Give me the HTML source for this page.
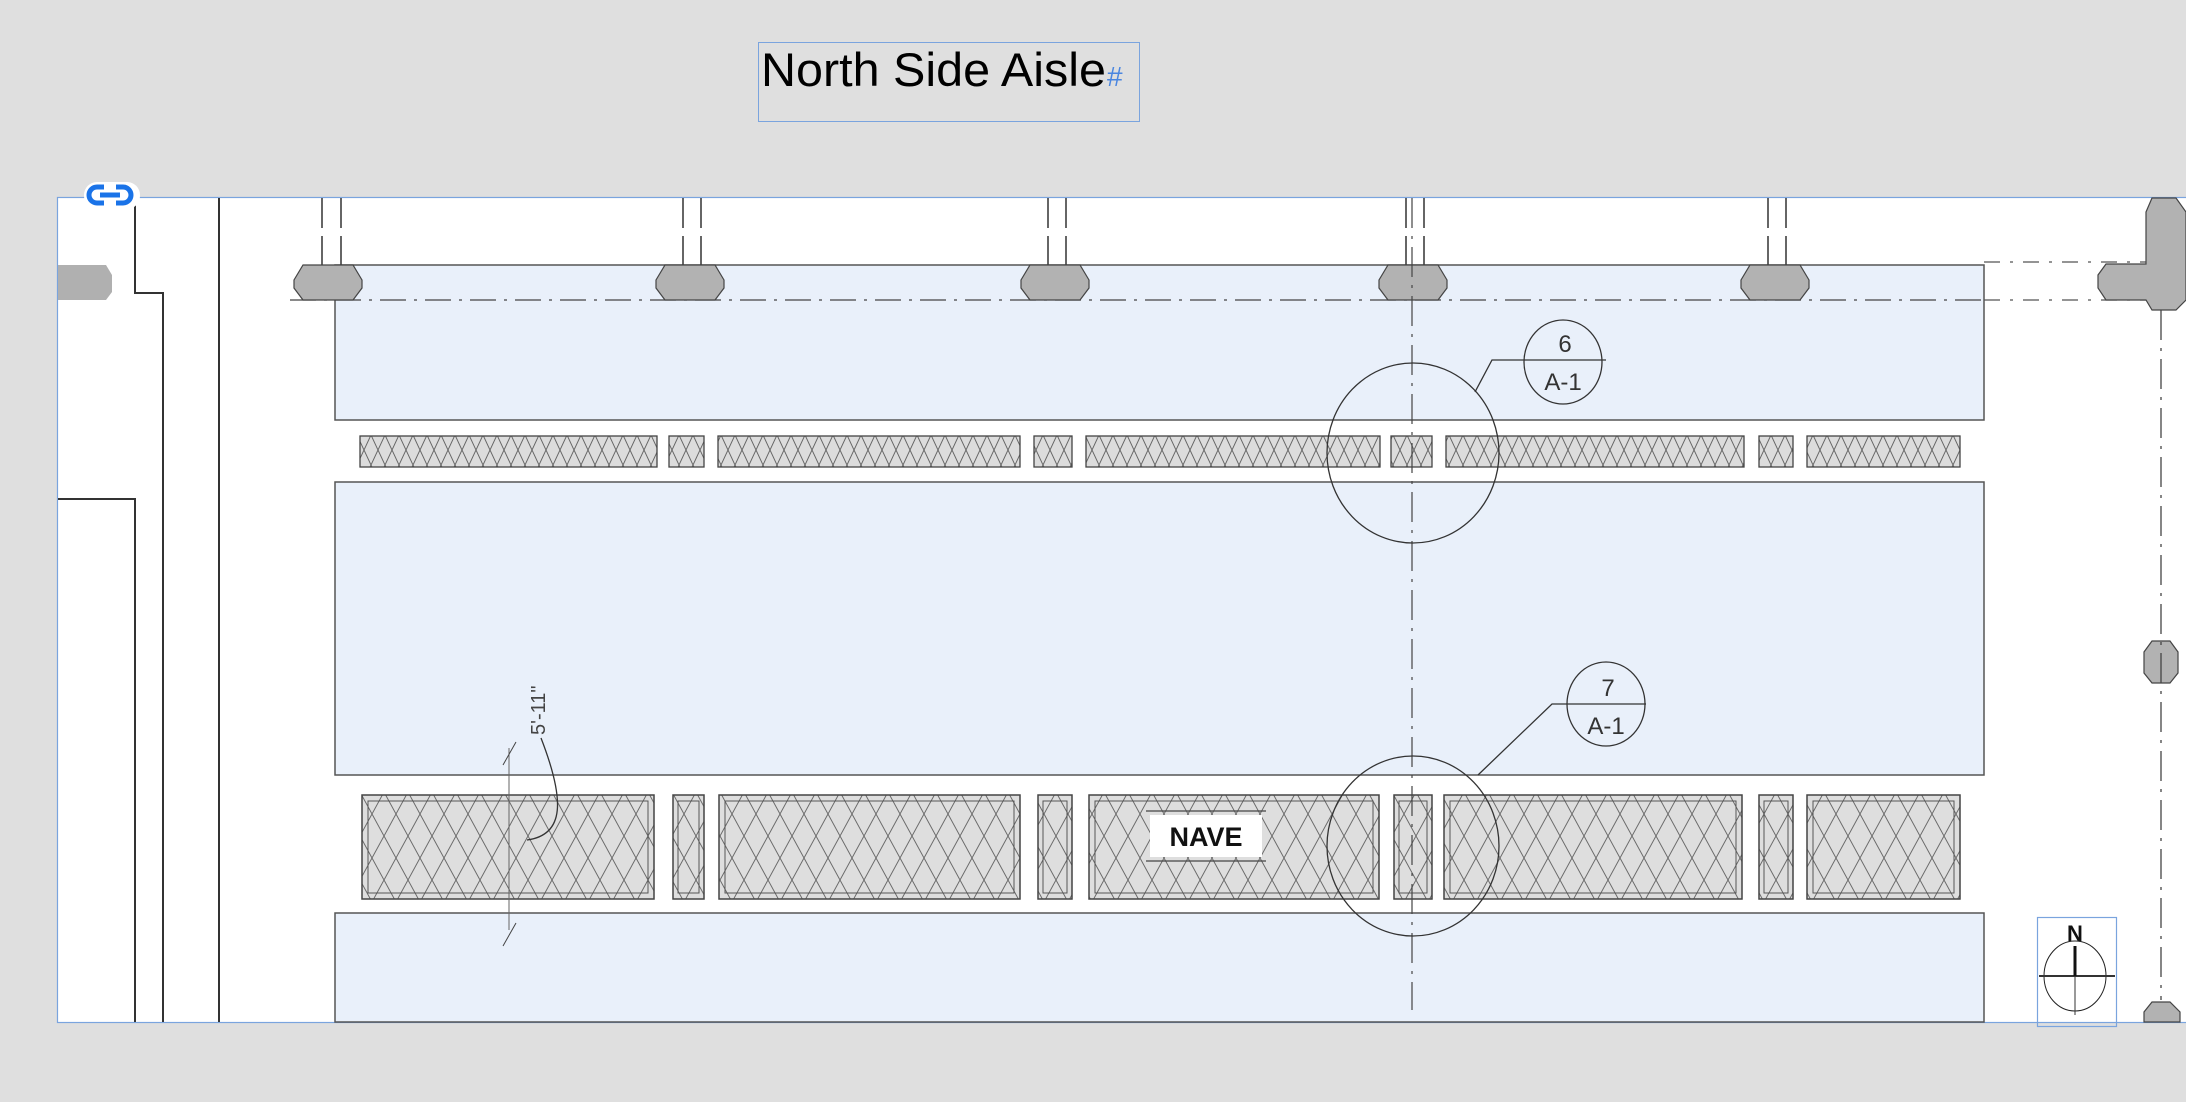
<!DOCTYPE html>
<html><head><meta charset="utf-8"><style>
html,body{margin:0;padding:0;background:#dfdfdf;}
body{width:2186px;height:1102px;position:relative;overflow:hidden;font-family:"Liberation Sans",sans-serif;}
svg{position:absolute;left:0;top:0;}
</style></head><body>
<svg width="2186" height="1102" viewBox="0 0 2186 1102" xmlns="http://www.w3.org/2000/svg">
<defs>
<pattern id="h1" width="14" height="30" patternUnits="userSpaceOnUse">
<rect width="14" height="30" fill="#dcdcdc"/>
<path d="M0,0 L14,30 M14,0 L0,30" stroke="#666" stroke-width="1"/>
</pattern>
<pattern id="h2" width="24" height="44" patternUnits="userSpaceOnUse">
<rect width="24" height="44" fill="#dedede"/>
<path d="M0,0 L24,44 M24,0 L0,44" stroke="#6a6a6a" stroke-width="1"/>
</pattern>
</defs>
<rect x="0" y="0" width="2186" height="1102" fill="#dfdfdf"/>
<!-- title -->
<rect x="758.5" y="42.5" width="381" height="79" fill="none" stroke="#7aa4de" stroke-width="1"/>
<text x="761" y="86" font-family="Liberation Sans, sans-serif" font-size="47" fill="#000" textLength="345" lengthAdjust="spacingAndGlyphs">North Side Aisle</text>
<text x="1107" y="86" font-family="Liberation Sans, sans-serif" font-size="28" fill="#4a86e0">#</text>
<!-- main sheet -->
<rect x="57.5" y="197.5" width="2140" height="825" fill="#fff" stroke="#7aa4de" stroke-width="1.2"/>
<!-- light blue bands -->
<rect x="335" y="265" width="1649" height="155" fill="#e9f0fa" stroke="#555" stroke-width="1.5"/>
<rect x="335" y="482" width="1649" height="293" fill="#e9f0fa" stroke="#555" stroke-width="1.5"/>
<rect x="335" y="913" width="1649" height="109" fill="#e9f0fa" stroke="#555" stroke-width="1.5"/>
<!-- left lines -->
<path d="M135,198 V293 H163 V1022" fill="none" stroke="#333" stroke-width="2"/>
<path d="M219,198 V1022" stroke="#333" stroke-width="2"/>
<path d="M58,499 H135 V1022" fill="none" stroke="#333" stroke-width="2"/>
<polygon points="58,265 106,265 112,275 112,292 106,300 58,300" fill="#b0b0b0"/>
<!-- dash-dot horizontal lines -->
<path d="M290,300 H1984" stroke="#444" stroke-width="1.3" stroke-dasharray="26,8,3,8"/>
<path d="M1984,262 H2186 M1984,300 H2186" stroke="#555" stroke-width="1.2" stroke-dasharray="16,10,3,10"/>
<!-- column stubs -->
<g stroke="#333" stroke-width="1.5" stroke-dasharray="30,8">
<path d="M322,198 V265 M341,198 V265"/>
<path d="M683,198 V265 M701,198 V265"/>
<path d="M1048,198 V265 M1066,198 V265"/>
<path d="M1406,198 V265 M1424,198 V265"/>
<path d="M1768,198 V265 M1786,198 V265"/>
</g>
<g fill="#b2b2b2" stroke="#444" stroke-width="1.2">
<polygon points="303,265 353,265 362,280 362,288 353,300 303,300 294,288 294,280"/>
<polygon points="665,265 715,265 724,280 724,288 715,300 665,300 656,288 656,280"/>
<polygon points="1030,265 1080,265 1089,280 1089,288 1080,300 1030,300 1021,288 1021,280"/>
<polygon points="1388,265 1438,265 1447,280 1447,288 1438,300 1388,300 1379,288 1379,280"/>
<polygon points="1750,265 1800,265 1809,280 1809,288 1800,300 1750,300 1741,288 1741,280"/>
<polygon points="2152,198 2176,198 2186,212 2186,300 2176,310 2152,310 2146,300 2146,300 2106,300 2098,288 2098,275 2106,264 2146,264 2146,212"/>
<polygon points="2152,641 2170,641 2178,652 2178,673 2170,683 2152,683 2144,673 2144,652"/>
<polygon points="2152,1002 2170,1002 2180,1012 2180,1022 2144,1022 2144,1012"/>
</g>
<path d="M2161,310 V1000" stroke="#444" stroke-width="1.3" stroke-dasharray="30,8,3,8"/>
<!-- window band 1 -->
<g fill="url(#h1)" stroke="#444" stroke-width="1.3">
<rect x="360" y="436" width="297" height="31"/>
<rect x="669" y="436" width="35" height="31"/>
<rect x="718" y="436" width="302" height="31"/>
<rect x="1034" y="436" width="38" height="31"/>
<rect x="1086" y="436" width="294" height="31"/>
<rect x="1391" y="436" width="41" height="31"/>
<rect x="1446" y="436" width="298" height="31"/>
<rect x="1759" y="436" width="34" height="31"/>
<rect x="1807" y="436" width="153" height="31"/>
</g>
<!-- window band 2 -->
<g fill="url(#h2)" stroke="#444" stroke-width="1.5">
<rect x="362" y="795" width="292" height="104"/>
<rect x="673" y="795" width="31" height="104"/>
<rect x="719" y="795" width="301" height="104"/>
<rect x="1038" y="795" width="34" height="104"/>
<rect x="1089" y="795" width="290" height="104"/>
<rect x="1394" y="795" width="38" height="104"/>
<rect x="1444" y="795" width="298" height="104"/>
<rect x="1759" y="795" width="34" height="104"/>
<rect x="1807" y="795" width="153" height="104"/>
</g>
<g fill="none" stroke="#555" stroke-width="1">
<rect x="368" y="801" width="280" height="92"/>
<rect x="678" y="801" width="21" height="92"/>
<rect x="725" y="801" width="289" height="92"/>
<rect x="1043" y="801" width="24" height="92"/>
<rect x="1095" y="801" width="278" height="92"/>
<rect x="1399" y="801" width="28" height="92"/>
<rect x="1450" y="801" width="286" height="92"/>
<rect x="1764" y="801" width="24" height="92"/>
<rect x="1813" y="801" width="141" height="92"/>
</g>
<!-- centerline -->
<path d="M1412,198 V1010" stroke="#444" stroke-width="1.2" stroke-dasharray="30,8,3,8"/>
<!-- detail circles -->
<g fill="none" stroke="#333" stroke-width="1.3">
<ellipse cx="1413" cy="453" rx="86" ry="90"/>
<ellipse cx="1563" cy="362" rx="39" ry="42"/>
<path d="M1475,392 L1492,360 H1606"/>
<ellipse cx="1413" cy="846" rx="86" ry="90"/>
<ellipse cx="1606" cy="704" rx="39" ry="42"/>
<path d="M1478,775 L1552,704 H1646"/>
</g>
<g font-family="Liberation Sans, sans-serif" fill="#333" font-size="24" text-anchor="middle">
<text x="1565" y="352">6</text>
<text x="1563" y="390">A-1</text>
<text x="1608" y="696">7</text>
<text x="1606" y="734">A-1</text>
</g>
<!-- dimension -->
<path d="M509,748 V930" stroke="#666" stroke-width="1"/>
<path d="M503,765 L516,742 M503,946 L516,923" stroke="#444" stroke-width="1"/>
<path d="M541,738 C565,800 565,835 527,840" fill="none" stroke="#333" stroke-width="1.3"/>
<text transform="translate(545,735) rotate(-90)" font-family="Liberation Sans, sans-serif" font-size="20" fill="#444">5'-11"</text>
<!-- NAVE -->
<rect x="1150" y="815" width="112" height="42" fill="#fff"/>
<path d="M1146,811 H1266 M1146,861 H1266" stroke="#444" stroke-width="1.2"/>
<text x="1206" y="846" text-anchor="middle" font-family="Liberation Sans, sans-serif" font-weight="bold" font-size="27" fill="#111">NAVE</text>
<!-- compass -->
<rect x="2037.5" y="917.5" width="79" height="109" fill="none" stroke="#7aa4de" stroke-width="1.2"/>
<text x="2075" y="941" text-anchor="middle" font-family="Liberation Sans, sans-serif" font-weight="bold" font-size="22" fill="#111">N</text>
<ellipse cx="2075" cy="976" rx="31" ry="35" fill="none" stroke="#222" stroke-width="1"/>
<path d="M2039,976 H2115" stroke="#333" stroke-width="2"/>
<path d="M2075,946 V976" stroke="#111" stroke-width="3"/>
<path d="M2075,976 V1015" stroke="#333" stroke-width="1"/>
<!-- link icon -->
<rect x="84" y="182" width="56" height="27" rx="13" fill="#fff"/>
<g fill="none" stroke="#1a73e8" stroke-width="5">
<path d="M104,187 H97 a8,8 0 0 0 0,16 H104"/>
<path d="M116,187 H123 a8,8 0 0 1 0,16 H116"/>
<path d="M100,195 H120"/>
</g>
</svg>
</body></html>
